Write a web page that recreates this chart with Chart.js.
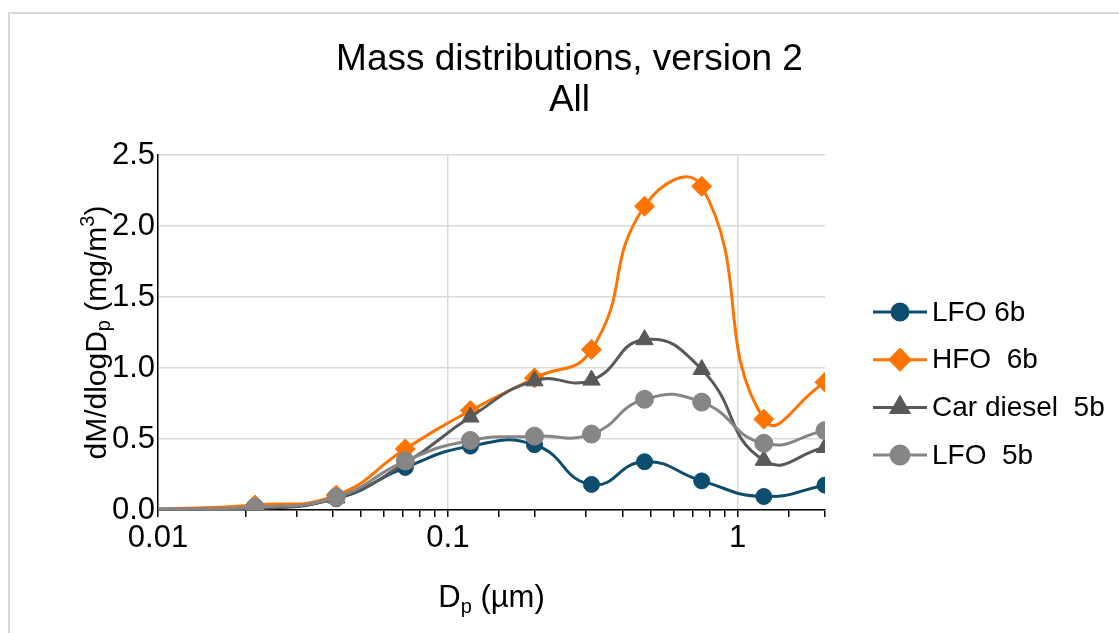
<!DOCTYPE html>
<html>
<head>
<meta charset="utf-8">
<script src="https://cdn.jsdelivr.net/npm/chart.js@4.4.1/dist/chart.umd.min.js"></script>
<style>
  html, body { margin: 0; padding: 0; background: #fff; }
  #wrap { position: relative; width: 1119px; height: 633px; overflow: hidden; }
  #frame { position: absolute; left: 8px; top: 12px; width: 1200px; height: 700px;
           border-top: 2px solid #d9d9d9; border-left: 2px solid #d9d9d9; }
  canvas { position: absolute; left: 0; top: 0; }
</style>
</head>
<body>
<div id="wrap">
  <div id="frame"></div>
  <canvas id="c" width="1119" height="633"></canvas>
</div>
<script>
// ---- data ----
const diameters   = [0.01, 0.0216, 0.0412, 0.0713, 0.1196, 0.199, 0.313, 0.477, 0.751, 1.23, 2.0];
const lfo6b       = [0.005, 0.02, 0.08, 0.30, 0.45, 0.46, 0.18, 0.34, 0.205, 0.095, 0.175];
const hfo6b       = [0.005, 0.035, 0.105, 0.43, 0.70, 0.93, 1.13, 2.14, 2.28, 0.64, 0.90];
const carDiesel5b = [0.005, 0.01, 0.085, 0.33, 0.655, 0.91, 0.915, 1.20, 0.99, 0.35, 0.44];
const lfo5b       = [0.005, 0.02, 0.09, 0.345, 0.49, 0.52, 0.535, 0.78, 0.76, 0.47, 0.56];
const seriesNames = ['LFO 6b', 'HFO  6b', 'Car diesel  5b', 'LFO  5b'];
const yTicks      = [0, 0.5, 1.0, 1.5, 2.0, 2.5];
const xLabelTicks = [0.01, 0.1, 1];
const titleLines  = ['Mass distributions, version 2', 'All'];

const FONT = '"Liberation Sans", Arial, Helvetica, sans-serif';
const colors  = ['#0d4d6d', '#ff7400', '#595959', '#868686'];
const styles  = ['circle', 'rectRot', 'triangle', 'circle'];
const radii   = [8, 10, 10, 9];
const orders  = [4, 3, 2, 1];
const seriesValues = [lfo6b, hfo6b, carDiesel5b, lfo5b];

const toPoints = vals => vals.map((v, i) => ({ x: diameters[i], y: v }));

const datasets = seriesValues.map((vals, i) => ({
  label: seriesNames[i],
  data: toPoints(vals),
  borderColor: colors[i],
  backgroundColor: colors[i],
  borderWidth: 3,
  pointStyle: styles[i],
  pointRadius: ctx => ctx.dataIndex === 0 ? 0 : radii[i],
  pointHoverRadius: ctx => ctx.dataIndex === 0 ? 0 : radii[i],
  pointBorderWidth: 1,
  pointBorderColor: colors[i],
  pointBackgroundColor: colors[i],
  tension: 0.5,
  order: orders[i],
  fill: false
}));

const isDecade = v => Math.abs(Math.log10(v) - Math.round(Math.log10(v))) < 1e-6;

function drawRich(ctx, parts, size, subOff) {
  const small = Math.round(size * 0.66);
  let total = 0;
  const widths = parts.map(p => {
    ctx.font = (p.k ? small : size) + 'px ' + FONT;
    const w = ctx.measureText(p.t).width;
    total += w;
    return w;
  });
  let x = -total / 2;
  const base = size * 0.36;
  ctx.textBaseline = 'alphabetic';
  ctx.textAlign = 'left';
  parts.forEach((p, i) => {
    ctx.font = (p.k ? small : size) + 'px ' + FONT;
    let dy = 0;
    if (p.k === 'sub') dy = size * subOff;
    if (p.k === 'sup') dy = -size * 0.38;
    ctx.fillText(p.t, x, base + dy);
    x += widths[i];
  });
}

const extrasPlugin = {
  id: 'extras',
  afterDraw(chart) {
    const ctx = chart.ctx;
    const area = chart.chartArea;
    ctx.save();
    ctx.fillStyle = '#000';
    // x axis title
    ctx.save();
    ctx.translate((area.left + area.right) / 2, 596);
    drawRich(ctx, [{t: 'D'}, {t: 'p', k: 'sub'}, {t: ' (µm)'}], 31, 0.2);
    ctx.restore();
    // y axis title
    ctx.save();
    ctx.translate(95, (area.top + area.bottom) / 2);
    ctx.rotate(-Math.PI / 2);
    drawRich(ctx, [{t: 'dM/dlogD'}, {t: 'p', k: 'sub'}, {t: ' (mg/m'}, {t: '3', k: 'sup'}, {t: ')'}], 30, 0.13);
    ctx.restore();
    // legend
    chart.data.datasets.forEach((ds, i) => {
      const y = 312 + i * 47.7;
      ctx.strokeStyle = ds.borderColor;
      ctx.lineWidth = 3;
      ctx.beginPath();
      ctx.moveTo(873, y);
      ctx.lineTo(927, y);
      ctx.stroke();
      ctx.fillStyle = ds.borderColor;
      Chart.helpers.drawPoint(ctx, {
        pointStyle: styles[i], radius: radii[i], borderWidth: 1, rotation: 0
      }, 900, y);
      ctx.fillStyle = '#000';
      ctx.font = '28px ' + FONT;
      ctx.textBaseline = 'middle';
      ctx.textAlign = 'left';
      ctx.fillText(ds.label, 932, y + 1);
    });
    ctx.restore();
  }
};

new Chart(document.getElementById('c'), {
  type: 'line',
  data: { datasets },
  options: {
    responsive: false,
    animation: false,
    events: [],
    layout: { padding: { left: 20, right: 0, top: 0, bottom: 0 } },
    plugins: {
      legend: { display: false },
      tooltip: { enabled: false },
      title: {
        display: true,
        text: titleLines,
        color: '#000',
        font: { family: FONT, size: 37, weight: 'normal', lineHeight: 1.11 },
        padding: { top: 39, bottom: 34 }
      }
    },
    scales: {
      x: {
        type: 'logarithmic',
        min: 0.01,
        max: 2,
        afterFit: s => { s.height = 123; },
        border: { display: true, color: '#000', width: 1.5 },
        grid: {
          color: c => (c.tick && isDecade(c.tick.value) && c.tick.value > 0.011) ? '#d9d9d9' : 'rgba(0,0,0,0)',
          lineWidth: 1.5,
          tickColor: '#000',
          tickLength: 7,
          tickWidth: 1.5,
          drawTicks: true
        },
        ticks: {
          color: '#000',
          font: { family: FONT, size: 31 },
          padding: 3,
          maxRotation: 0,
          autoSkip: false,
          callback: v => {
            const hit = xLabelTicks.find(t => Math.abs(t - v) / t < 1e-6);
            return hit !== undefined ? String(hit) : '';
          }
        }
      },
      y: {
        type: 'linear',
        position: 'left',
        min: yTicks[0],
        max: yTicks[yTicks.length - 1],
        afterFit: s => { s.width = 138; },
        afterBuildTicks: s => { s.ticks = yTicks.map(v => ({ value: v })); },
        border: { display: true, color: '#000', width: 1.5 },
        grid: { color: '#d9d9d9', lineWidth: 1.5, drawTicks: false },
        ticks: {
          color: '#000',
          font: { family: FONT, size: 31 },
          padding: 3,
          callback: v => Number(v).toFixed(1)
        }
      },
      yRight: {
        type: 'linear',
        position: 'right',
        display: true,
        afterFit: s => { s.width = 294; },
        grid: { display: false, drawTicks: false },
        border: { display: false },
        ticks: { display: false }
      }
    }
  },
  plugins: [extrasPlugin]
});
</script>
</body>
</html>
